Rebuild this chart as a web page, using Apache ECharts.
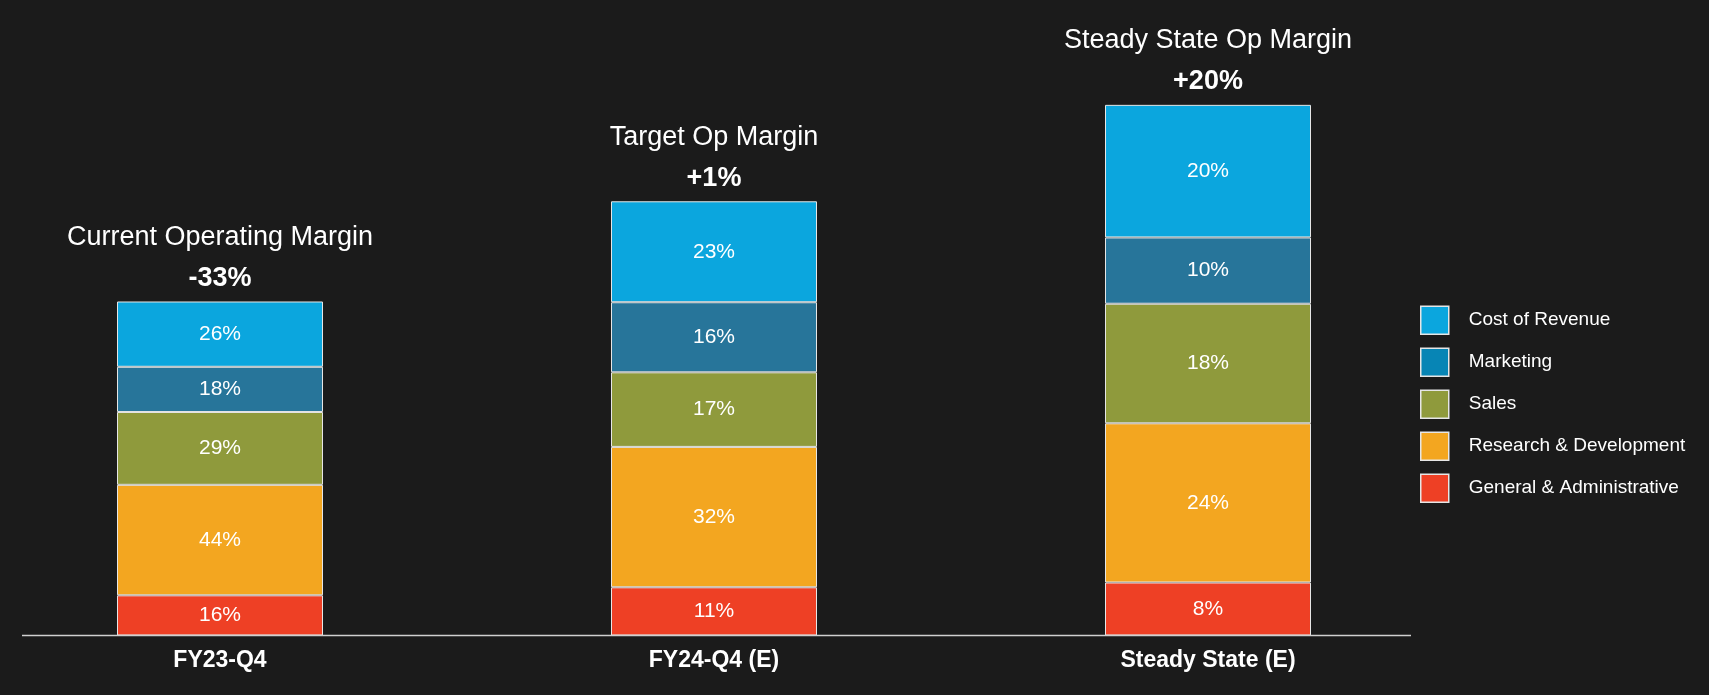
<!DOCTYPE html>
<html>
<head>
<meta charset="utf-8">
<script src="https://cdn.jsdelivr.net/npm/echarts@6/dist/echarts.min.js"></script>
<style>
  html, body { margin: 0; padding: 0; background: #1b1b1b; }
  #chart { width: 1709px; height: 695px; }
</style>
</head>
<body>
<div id="chart"></div>
<script>
// Categories
const categories = ['FY23-Q4', 'FY24-Q4 (E)', 'Steady State (E)'];
// Annotation text above each bar
const marginTitles = ['Current Operating Margin', 'Target Op Margin', 'Steady State Op Margin'];
const marginValues = ['-33%', '+1%', '+20%'];

// Expense amounts (indexed: FY23-Q4 revenue = 100)
const gaAmounts        = [16, 19.2, 21.1];
const rdAmounts        = [44, 55.9, 63.4];
const salesAmounts     = [29, 29.7, 47.6];
const marketingAmounts = [18, 27.9, 26.4];
const corAmounts       = [26, 40.2, 52.8];

// Segment labels (% of revenue)
const gaPct        = [16, 11, 8];
const rdPct        = [44, 32, 24];
const salesPct     = [29, 17, 18];
const marketingPct = [18, 16, 10];
const corPct       = [26, 23, 20];

const seriesNames = ['Cost of Revenue', 'Marketing', 'Sales', 'Research & Development', 'General & Administrative'];

const FONT = "'Liberation Sans', Arial, Helvetica, sans-serif";

const colors = {
  'General & Administrative': '#ee4025',
  'Research & Development': '#f3a620',
  'Sales': '#8f9a3c',
  'Marketing': '#27759a',
  'Cost of Revenue': '#0ba6de'
};
const legendColors = {
  'Cost of Revenue': '#0ba6de',
  'Marketing': '#0785b5',
  'Sales': '#8f9a3c',
  'Research & Development': '#f3a620',
  'General & Administrative': '#ee4025'
};

function barSeries(name, amounts, pct) {
  return {
    name: name,
    type: 'bar',
    stack: 'opex',
    barWidth: 206,
    data: amounts,
    itemStyle: { color: colors[name], borderColor: '#e6e6e6', borderWidth: 1 },
    label: {
      show: true,
      position: 'inside',
      color: '#ffffff',
      fontSize: 21,
      fontFamily: FONT,
      formatter: function (p) { return pct[p.dataIndex] + '%'; }
    },
    emphasis: { disabled: true }
  };
}

const stackTotals = categories.map(function (_, i) {
  return gaAmounts[i] + rdAmounts[i] + salesAmounts[i] + marketingAmounts[i] + corAmounts[i];
});

const chart = echarts.init(document.getElementById('chart'));
chart.setOption({
  backgroundColor: '#1b1b1b',
  animation: false,
  textStyle: { fontFamily: FONT },
  grid: { left: -27, width: 1482, top: 83, bottom: 59.5, outerBoundsMode: 'none', containLabel: false },
  xAxis: {
    type: 'category',
    data: categories,
    axisLine: { show: false },
    axisTick: { show: false },
    axisLabel: { color: '#ffffff', fontSize: 23, fontWeight: 'bold', fontFamily: FONT, margin: 14 }
  },
  yAxis: {
    type: 'value',
    min: 0,
    max: 220,
    show: false,
    splitLine: { show: false }
  },
  legend: {
    orient: 'vertical',
    left: 1420,
    top: 305.5,
    padding: 0,
    itemWidth: 28,
    itemHeight: 28,
    itemGap: 12.5,
    icon: 'rect',
    selectedMode: false,
    textStyle: { color: '#ffffff', fontSize: 19, fontFamily: FONT, padding: [0, 0, 0, 15] },
    data: seriesNames.map(function (n) {
      return { name: n, itemStyle: { color: legendColors[n], borderColor: '#e6e6e6', borderWidth: 1.5 } };
    })
  },
  graphic: [{
    type: 'line',
    shape: { x1: 22, y1: 635.5, x2: 1411, y2: 635.5 },
    style: { stroke: '#d0d0d0', lineWidth: 1.5 },
    z: 10
  }],
  series: [
    barSeries('General & Administrative', gaAmounts, gaPct),
    barSeries('Research & Development', rdAmounts, rdPct),
    barSeries('Sales', salesAmounts, salesPct),
    barSeries('Marketing', marketingAmounts, marketingPct),
    barSeries('Cost of Revenue', corAmounts, corPct),
    {
      type: 'custom',
      silent: true,
      data: stackTotals.map(function (t, i) { return [i, t]; }),
      encode: { x: 0, y: 1 },
      renderItem: function (params, api) {
        const pt = api.coord([api.value(0), api.value(1)]);
        const i = params.dataIndex;
        return {
          type: 'group',
          children: [
            {
              type: 'text',
              x: pt[0], y: pt[1] - 64,
              style: {
                text: marginTitles[i], fill: '#ffffff', fontSize: 27, fontFamily: FONT,
                align: 'center', verticalAlign: 'middle'
              }
            },
            {
              type: 'text',
              x: pt[0], y: pt[1] - 23,
              style: {
                text: marginValues[i], fill: '#ffffff', fontSize: 27, fontWeight: 'bold', fontFamily: FONT,
                align: 'center', verticalAlign: 'middle'
              }
            }
          ]
        };
      }
    }
  ]
});
</script>
</body>
</html>
